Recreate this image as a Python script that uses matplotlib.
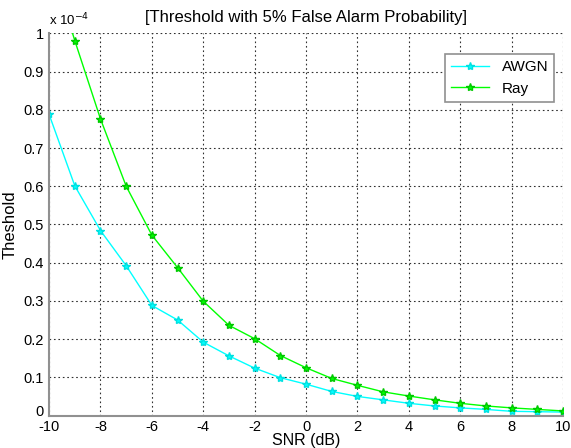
import numpy as np
import matplotlib.pyplot as plt

snr = np.arange(-10, 11)

# thresholds in units of 1e-4
awgn = [0.788, 0.601, 0.484, 0.392, 0.288, 0.250, 0.192, 0.156, 0.124, 0.099, 0.082,
        0.063, 0.050, 0.041, 0.032, 0.025, 0.020, 0.016, 0.011, 0.010, 0.009]
ray = [1.20, 0.981, 0.776, 0.600, 0.472, 0.387, 0.299, 0.236, 0.201, 0.157, 0.125,
       0.097, 0.079, 0.062, 0.051, 0.041, 0.032, 0.025, 0.020, 0.016, 0.012]

plt.rcParams['font.family'] = ['Liberation Sans', 'DejaVu Sans']
plt.rcParams['axes.unicode_minus'] = False

fig = plt.figure(figsize=(5.71, 4.48), dpi=100)
ax = fig.add_axes([0.086, 0.0725, 0.900, 0.853])

ax.plot(snr, awgn, '-*', color='#00ffff', lw=1.0, ms=6, mec='#00e0e0', label='AWGN')
ax.plot(snr, ray, '-*', color='#00ff00', lw=1.0, ms=6, mec='#00c800', label='Ray')

ax.set_xlim(-10, 10)
ax.set_ylim(0, 1)
ax.set_xticks(np.arange(-10, 11, 2))
ax.set_yticks(np.arange(0, 1.01, 0.1))
ax.set_yticklabels(['0'] + ['%.1f' % v for v in np.arange(0.1, 0.95, 0.1)] + ['1'])
ax.tick_params(labelsize=10.5, length=0)
ax.tick_params(axis='x', pad=3.5)
ax.tick_params(axis='y', pad=4)
ax.grid(True, color='#303030', linestyle=(0, (1.5, 2.5)), linewidth=0.8)
# sit the "0" label on the axis line so it clears the "-10" below it
ax.get_yticklabels()[0].set_va('baseline')

for side in ['top', 'right']:
    ax.spines[side].set_visible(False)
for side in ['left', 'bottom']:
    ax.spines[side].set_color('#909090')
    ax.spines[side].set_linewidth(1.5)

ax.set_title('[Threshold with 5% False Alarm Probability]', fontsize=12, pad=8)
ax.set_xlabel('SNR (dB)', fontsize=11.5, labelpad=-1)
ax.set_ylabel('Theshold', fontsize=12, labelpad=4)
ax.text(0.0, 1.012, r'x 10$^{-4}$', transform=ax.transAxes, fontsize=9.5, va='bottom')

leg = ax.legend(loc='upper left', bbox_to_anchor=(445 / 571, 1 - 54 / 448),
                bbox_transform=fig.transFigure, fontsize=11, fancybox=False,
                edgecolor='#909090', framealpha=1, handlelength=2.5,
                borderaxespad=0)
leg.get_frame().set_linewidth(1.2)

fig.savefig('out.png', dpi=100)
